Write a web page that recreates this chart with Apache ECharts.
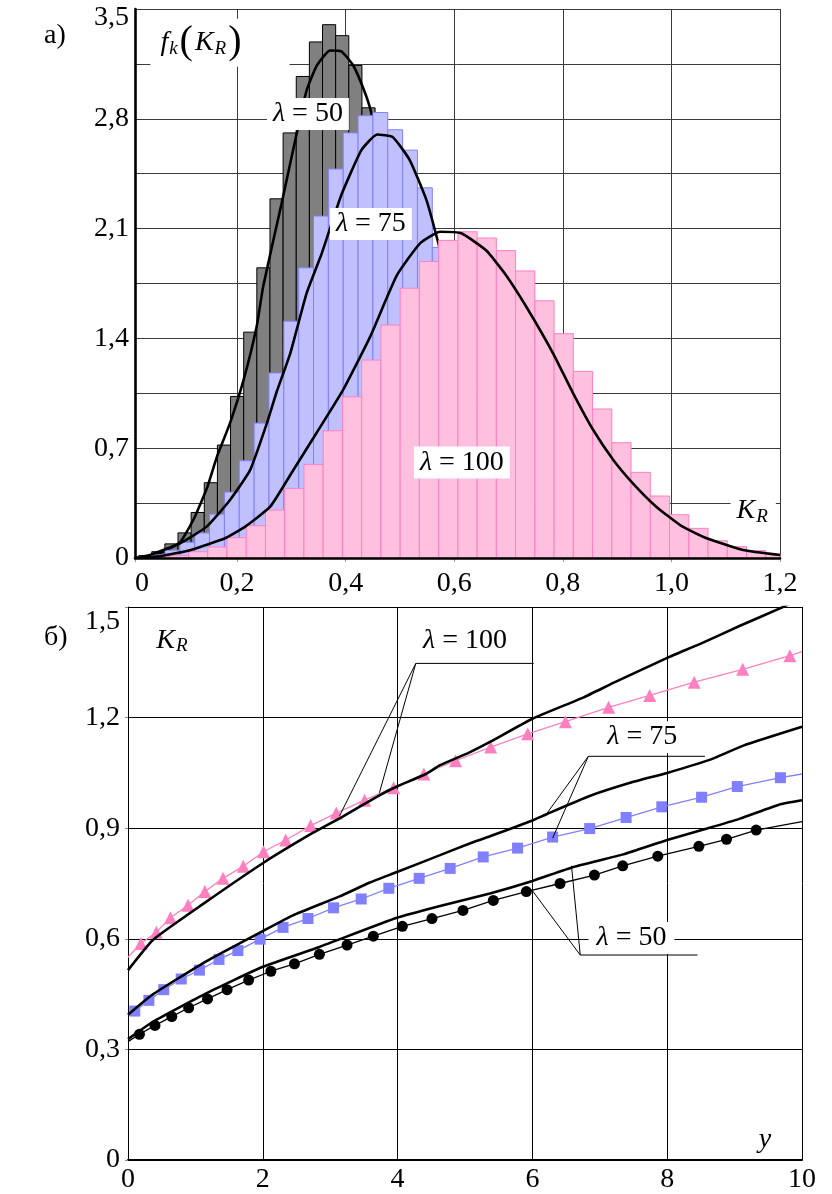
<!DOCTYPE html>
<html>
<head>
<meta charset="utf-8">
<script src="https://cdn.jsdelivr.net/npm/echarts@6/dist/echarts.min.js"></script>
<style>
  html, body { margin: 0; padding: 0; background: #fff; }
  #chart { width: 832px; height: 1194px; }
</style>
</head>
<body>
<div id="chart"></div>
<script>
// ---- а) histograms f_k(K_R): bin start, bin width, bar heights ----
var grayStart = 0.0186, grayWidth = 0.0242;
var grayHeights = [0.015, 0.04, 0.09, 0.16, 0.29, 0.48, 0.72, 1.03, 1.44, 1.85, 2.29, 2.71, 3.07, 3.29,
  3.40, 3.33, 3.14, 2.87, 2.45, 1.95, 1.45, 1.0, 0.62, 0.35, 0.18, 0.08, 0.03];
var blueStart = 0.0126, blueWidth = 0.02735;
var blueHeights = [0.005, 0.02, 0.05, 0.10, 0.16, 0.28, 0.42, 0.62, 0.86, 1.18, 1.51, 1.85, 2.18, 2.48,
  2.71, 2.82, 2.84, 2.73, 2.6, 2.36, 1.98, 1.6, 1.25, 0.92, 0.64, 0.42, 0.26, 0.15, 0.08, 0.04, 0.02];
var pinkStart = 0.0042, pinkWidth = 0.03544;
var pinkHeights = [0.005, 0.01, 0.015, 0.04, 0.07, 0.13, 0.206, 0.306, 0.444, 0.597, 0.811, 1.028, 1.262,
  1.485, 1.72, 1.89, 2.025, 2.08, 2.04, 1.96, 1.83, 1.64, 1.43, 1.19, 0.95, 0.735, 0.546, 0.395, 0.276,
  0.189, 0.11, 0.072, 0.047, 0.025];

// theoretical densities [K_R, f]
var curve50 = [[0.012, 0], [0.03, 0.006], [0.064, 0.04], [0.095, 0.1], [0.12, 0.247], [0.145, 0.45],
  [0.163, 0.646], [0.187, 0.86], [0.212, 1.135], [0.236, 1.474], [0.248, 1.73], [0.282, 2.26], [0.31, 2.71],
  [0.328, 2.98], [0.347, 3.14], [0.371, 3.235], [0.392, 3.23], [0.414, 3.14], [0.433, 2.99], [0.446, 2.855],
  [0.47, 2.5], [0.5, 1.95], [0.55, 1.1], [0.6, 0.5], [0.65, 0.2], [0.7, 0.07], [0.8, 0.01]];
var curve75 = [[0.012, 0], [0.04, 0.02], [0.095, 0.094], [0.144, 0.2], [0.187, 0.37], [0.224, 0.56],
  [0.255, 0.86], [0.273, 1.06], [0.298, 1.305], [0.328, 1.687], [0.356, 1.942], [0.392, 2.314], [0.429, 2.6],
  [0.458, 2.70], [0.487, 2.683], [0.518, 2.537], [0.549, 2.28], [0.57, 2.016], [0.6, 1.6], [0.65, 1.0],
  [0.7, 0.55], [0.75, 0.28], [0.8, 0.12], [0.9, 0.02]];
var curve100 = [[0.012, 0], [0.06, 0.012], [0.113, 0.05], [0.178, 0.126], [0.215, 0.2], [0.261, 0.327],
  [0.3, 0.54], [0.346, 0.795], [0.395, 1.07], [0.445, 1.41], [0.494, 1.8], [0.537, 2.006], [0.574, 2.08],
  [0.613, 2.07], [0.659, 1.96], [0.696, 1.80], [0.733, 1.60], [0.782, 1.305], [0.819, 1.05], [0.856, 0.816],
  [0.893, 0.625], [0.929, 0.476], [0.972, 0.327], [1.016, 0.21], [1.058, 0.136], [1.132, 0.051], [1.2, 0.019]];

// ---- б) K_R(y) ----
var tri100X = [0.19, 0.42, 0.63, 0.89, 1.14, 1.41, 1.71, 2.01, 2.34, 2.71, 3.09, 3.51, 3.94, 4.39, 4.86,
  5.38, 5.93, 6.49, 7.13, 7.74, 8.40, 9.12, 9.82];
var tri100Y = [0.587, 0.618, 0.657, 0.691, 0.728, 0.764, 0.797, 0.836, 0.868, 0.907, 0.941, 0.976, 1.010,
  1.047, 1.083, 1.12, 1.156, 1.189, 1.228, 1.26, 1.296, 1.331, 1.368];
var tri100Ends = [[0, 0.55], [10, 1.379]];
var sq75X = [0.1, 0.31, 0.53, 0.79, 1.06, 1.35, 1.63, 1.96, 2.30, 2.67, 3.05, 3.46, 3.87, 4.32, 4.78,
  5.27, 5.78, 6.30, 6.85, 7.39, 7.92, 8.51, 9.04, 9.68];
var sq75Y = [0.404, 0.433, 0.462, 0.491, 0.515, 0.544, 0.568, 0.599, 0.631, 0.655, 0.684, 0.708, 0.737,
  0.764, 0.791, 0.822, 0.846, 0.876, 0.899, 0.929, 0.958, 0.984, 1.013, 1.037];
var sq75Ends = [[0, 0.394], [10, 1.047]];
var dot50X = [0.17, 0.40, 0.65, 0.90, 1.18, 1.47, 1.79, 2.12, 2.47, 2.84, 3.25, 3.64, 4.07, 4.51, 4.97,
  5.42, 5.91, 6.41, 6.92, 7.34, 7.86, 8.47, 8.88, 9.32];
var dot50Y = [0.341, 0.365, 0.389, 0.413, 0.437, 0.462, 0.488, 0.512, 0.532, 0.558, 0.583, 0.607, 0.634,
  0.655, 0.677, 0.704, 0.728, 0.75, 0.773, 0.798, 0.824, 0.851, 0.87, 0.895];
var dot50Ends = [[0, 0.321], [10, 0.918]];

var theo100 = [[0, 0.515], [0.37, 0.597], [1.11, 0.694], [2, 0.805], [2.74, 0.887], [3.16, 0.929],
  [3.73, 0.989], [3.99, 1.013], [4.42, 1.047], [4.63, 1.071], [5.06, 1.105], [5.37, 1.134], [6, 1.197],
  [6.76, 1.255], [7.2, 1.294], [8, 1.362], [8.49, 1.4], [9.08, 1.449], [9.68, 1.497], [10, 1.525]];
var theo75 = [[0, 0.394], [0.35, 0.447], [1.16, 0.539], [2, 0.621], [2.44, 0.663], [3.14, 0.715],
  [3.58, 0.752], [3.99, 0.781], [4.63, 0.827], [5.06, 0.858], [5.37, 0.878], [6, 0.921], [6.21, 0.938],
  [6.83, 0.986], [7.45, 1.023], [8, 1.05], [8.64, 1.086], [9.13, 1.124], [10, 1.175]];
var theo50 = [[0, 0.328], [0.37, 0.375], [1.16, 0.452], [2, 0.524], [2.84, 0.578], [3.99, 0.657],
  [4.63, 0.689], [5.37, 0.723], [6, 0.757], [6.61, 0.795], [7.35, 0.829], [8, 0.868], [8.59, 0.899],
  [9.08, 0.926], [9.68, 0.965], [10, 0.976]];

var FONT = 'Liberation Serif';

function comma(v, digits) {
  return v.toFixed(digits).replace('.', ',');
}

function zip(xs, ys) {
  return xs.map(function (x, i) { return [x, ys[i]]; });
}

function withEnds(points, ends) {
  return [{ value: ends[0], symbol: 'none' }].concat(points, [{ value: ends[1], symbol: 'none' }]);
}

function histSeries(start, width, heights, fill, stroke, z) {
  var data = heights.map(function (h, i) {
    return [start + i * width, start + (i + 1) * width, h];
  });
  return {
    type: 'custom',
    xAxisIndex: 0, yAxisIndex: 0,
    z: z, silent: true,
    renderItem: function (params, api) {
      var p0 = api.coord([api.value(0), api.value(2)]);
      var p1 = api.coord([api.value(1), 0]);
      var cs = params.coordSys;
      var shape = echarts.graphic.clipRectByRect(
        { x: p0[0], y: p0[1], width: p1[0] - p0[0], height: p1[1] - p0[1] },
        { x: cs.x, y: cs.y, width: cs.width, height: cs.height });
      if (!shape) return;
      return { type: 'rect', shape: shape, style: { fill: fill, stroke: stroke, lineWidth: 1 } };
    },
    encode: { x: [0, 1], y: 2 },
    data: data
  };
}

function curveSeries(data, z) {
  return {
    type: 'line', xAxisIndex: 0, yAxisIndex: 0, z: z, silent: true,
    data: data, smooth: 0.15, symbol: 'none',
    lineStyle: { color: '#000', width: 2.6 }
  };
}

var richText = {
  i: { fontFamily: FONT, fontStyle: 'italic', fontSize: 28, color: '#000' },
  n: { fontFamily: FONT, fontSize: 28, color: '#000' },
  sub: { fontFamily: FONT, fontStyle: 'italic', fontSize: 19, color: '#000', padding: [12, 0, 0, 1] },
  p: { fontFamily: FONT, fontSize: 40, color: '#000', padding: [0, 2, 0, 2] }
};

function labelSeries(xi, yi, items) {
  return {
    type: 'scatter', xAxisIndex: xi, yAxisIndex: yi, z: 20, silent: true,
    symbolSize: 0,
    itemStyle: { opacity: 1 },
    data: items.map(function (it) {
      return {
        value: [it.x, it.y],
        label: {
          show: true, position: 'inside', formatter: it.text,
          fontFamily: FONT, fontSize: 28, color: '#000', opacity: 1,
          backgroundColor: it.bg === false ? 'transparent' : '#fff',
          padding: it.pad || [2, 5],
          rich: richText
        }
      };
    })
  };
}

function calloutSeries(points) {
  return {
    type: 'line', xAxisIndex: 1, yAxisIndex: 1, z: 8, silent: true,
    data: points, symbol: 'none', smooth: false,
    lineStyle: { color: '#000', width: 1 }
  };
}

var chart = echarts.init(document.getElementById('chart'));

var axisText = { fontFamily: FONT, fontSize: 28, color: '#000' };

var option = {
  animation: false,
  backgroundColor: '#fff',
  grid: [
    { left: 135, top: 9, width: 645, height: 549, outerBoundsMode: 'none' },
    { left: 128, top: 607, width: 674, height: 553, outerBoundsMode: 'none' }
  ],
  xAxis: [
    {
      gridIndex: 0, type: 'value', min: 0.012, max: 1.2, position: 'bottom',
      axisLine: { show: false },
      axisTick: { show: true, length: 4, lineStyle: { color: '#999' } },
      axisLabel: Object.assign({
        margin: 12, showMinLabel: true, showMaxLabel: true,
        formatter: function (v) { return v < 0.1 ? '{z|0}' : comma(v, 1); },
        rich: { z: { fontFamily: FONT, fontSize: 28, color: '#000', padding: [0, 0, 0, 14] } }
      }, axisText),
      splitLine: { show: true, lineStyle: { color: '#3a3a3a', width: 1 } }
    },
    {
      gridIndex: 1, type: 'value', min: 0, max: 10, interval: 2, position: 'bottom',
      axisLine: { show: true, onZero: false, lineStyle: { color: '#000', width: 2 } },
      axisTick: { show: false },
      axisLabel: Object.assign({ margin: 6 }, axisText),
      splitLine: { show: true, lineStyle: { color: '#000', width: 1 } }
    },
    {
      gridIndex: 0, type: 'value', min: 0.012, max: 1.2, position: 'bottom', z: 30,
      axisLine: { show: true, onZero: false, lineStyle: { color: '#000', width: 2.6 } },
      axisTick: { show: false }, axisLabel: { show: false }, splitLine: { show: false }
    }
  ],
  yAxis: [
    {
      gridIndex: 0, type: 'value', min: 0, max: 3.5, interval: 0.35, position: 'left',
      axisLine: { show: false },
      axisTick: { show: false },
      axisLabel: Object.assign({
        margin: 6, showMaxLabel: true,
        formatter: function (v) {
          var k = Math.round(v / 0.35);
          if (k % 2) return '';
          if (k === 0) return '0';
          if (k === 10) return '{t|' + comma(k * 0.35, 1) + '}';
          return comma(k * 0.35, 1);
        },
        rich: { t: { fontFamily: FONT, fontSize: 28, color: '#000', padding: [18, 0, 0, 0] } }
      }, axisText),
      splitLine: { show: true, lineStyle: { color: '#3a3a3a', width: 1 } }
    },
    {
      gridIndex: 1, type: 'value', min: 0, max: 1.5, interval: 0.3, position: 'left',
      axisLine: { show: true, onZero: false, lineStyle: { color: '#000', width: 1 } },
      axisTick: { show: true, length: 3, lineStyle: { color: '#888' } },
      axisLabel: Object.assign({
        margin: 8, showMaxLabel: true,
        formatter: function (v) {
          if (v === 0) return '0';
          if (Math.abs(v - 1.5) < 1e-6) return '{t|1,5}';
          return comma(v, 1);
        },
        rich: { t: { fontFamily: FONT, fontSize: 28, color: '#000', padding: [30, 0, 0, 0] } }
      }, axisText),
      splitLine: { show: true, lineStyle: { color: '#000', width: 1 } }
    },
    {
      gridIndex: 0, type: 'value', min: 0, max: 3.5, z: 30, position: 'left',
      axisLine: { show: true, onZero: false, lineStyle: { color: '#000', width: 2.6 } },
      axisTick: { show: false }, axisLabel: { show: false }, splitLine: { show: false }
    }
  ],
  graphic: [
    { type: 'text', left: 44, top: 22, style: { text: 'а)', font: '28px "Liberation Serif"', fill: '#000' } },
    { type: 'text', left: 44, top: 624, style: { text: 'б)', font: '28px "Liberation Serif"', fill: '#000' } }
  ],
  series: [
    histSeries(grayStart, grayWidth, grayHeights, '#808080', '#000000', 2),
    curveSeries(curve50, 3),
    histSeries(blueStart, blueWidth, blueHeights, '#c0c0ff', '#8080ff', 4),
    curveSeries(curve75, 5),
    histSeries(pinkStart, pinkWidth, pinkHeights, '#ffbfdf', '#ff80c0', 6),
    curveSeries(curve100, 7),
    labelSeries(0, 0, [
      { x: 0.1685, y: 3.285, text: '{i|f}{sub|k}{p|(}{i|K}{sub|R}{p|)}', pad: [4, 46, 4, 10] },
      { x: 0.3305, y: 2.83, text: '{i|λ} = 50', pad: [2, 6] },
      { x: 0.4465, y: 2.13, text: '{i|λ} = 75', pad: [2, 6] },
      { x: 0.614, y: 0.609, text: '{i|λ} = 100', pad: [2, 6] },
      { x: 1.1506, y: 0.296, text: '{i|K}{sub|R}', pad: [4, 8, 6, 6] }
    ]),

    // б) measured points with thin lines
    {
      type: 'line', xAxisIndex: 1, yAxisIndex: 1, z: 5, silent: true,
      data: withEnds(zip(tri100X, tri100Y), tri100Ends),
      symbol: 'triangle', symbolSize: 13,
      itemStyle: { color: '#ff80c0' },
      lineStyle: { color: '#ff80c0', width: 1.3 }
    },
    {
      type: 'line', xAxisIndex: 1, yAxisIndex: 1, z: 5, silent: true,
      data: withEnds(zip(sq75X, sq75Y), sq75Ends),
      symbol: 'rect', symbolSize: 11,
      itemStyle: { color: '#8080ff' },
      lineStyle: { color: '#8080ff', width: 1.3 }
    },
    {
      type: 'line', xAxisIndex: 1, yAxisIndex: 1, z: 5, silent: true,
      data: withEnds(zip(dot50X, dot50Y), dot50Ends),
      symbol: 'circle', symbolSize: 11,
      itemStyle: { color: '#000' },
      lineStyle: { color: '#000', width: 1.3 }
    },
    // б) theoretical curves
    {
      type: 'line', xAxisIndex: 1, yAxisIndex: 1, z: 6, silent: true,
      data: theo100, symbol: 'none', smooth: 0.15, lineStyle: { color: '#000', width: 2.6 }
    },
    {
      type: 'line', xAxisIndex: 1, yAxisIndex: 1, z: 6, silent: true,
      data: theo75, symbol: 'none', smooth: 0.15, lineStyle: { color: '#000', width: 2.6 }
    },
    {
      type: 'line', xAxisIndex: 1, yAxisIndex: 1, z: 6, silent: true,
      data: theo50, symbol: 'none', smooth: 0.15, lineStyle: { color: '#000', width: 2.6 }
    },
    // callout lines
    calloutSeries([[6.02, 1.347], [4.27, 1.347], [3.14, 0.934]]),
    calloutSeries([[4.27, 1.347], [3.73, 0.996]]),
    calloutSeries([[8.56, 1.095], [6.83, 1.095], [6.19, 0.934]]),
    calloutSeries([[6.83, 1.095], [6.30, 0.873]]),
    calloutSeries([[8.45, 0.556], [6.71, 0.556], [6.58, 0.798]]),
    calloutSeries([[6.71, 0.556], [5.99, 0.733]]),
    labelSeries(1, 1, [
      { x: 0.653, y: 1.41, text: '{i|K}{sub|R}', bg: false },
      { x: 9.45, y: 0.054, text: '{i|y}', bg: false },
      { x: 5.0, y: 1.41, text: '{i|λ} = 100', pad: [2, 6] },
      { x: 7.63, y: 1.147, text: '{i|λ} = 75', pad: [2, 6] },
      { x: 7.47, y: 0.602, text: '{i|λ} = 50', pad: [2, 8] }
    ])
  ]
};

chart.setOption(option);
</script>
</body>
</html>
